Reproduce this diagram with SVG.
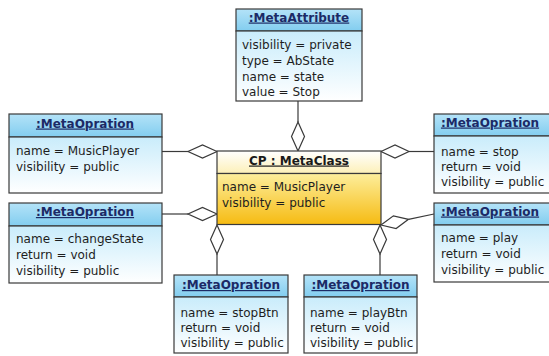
<svg xmlns="http://www.w3.org/2000/svg" width="549" height="356" viewBox="0 0 549 356">
  <defs>
    <linearGradient id="blueHead" x1="0" y1="0" x2="0" y2="1">
      <stop offset="0" stop-color="#b4e3f8"/>
      <stop offset="1" stop-color="#82cdef"/>
    </linearGradient>
    <linearGradient id="blueBody" x1="0" y1="0" x2="0" y2="1">
      <stop offset="0" stop-color="#c9ecfb"/>
      <stop offset="1" stop-color="#ffffff"/>
    </linearGradient>
    <linearGradient id="goldHead" x1="0" y1="0" x2="0" y2="1">
      <stop offset="0" stop-color="#ffffff"/>
      <stop offset="1" stop-color="#fdf0b8"/>
    </linearGradient>
    <linearGradient id="goldBody" x1="0" y1="0" x2="0" y2="1">
      <stop offset="0" stop-color="#fdee9c"/>
      <stop offset="1" stop-color="#f6bb12"/>
    </linearGradient>
  </defs>
  <style>
    .box { stroke: #3a3a3a; stroke-width: 1.2; }
    .head { fill: url(#blueHead); }
    .body { fill: url(#blueBody); }
    .ghead { fill: url(#goldHead); }
    .gbody { fill: url(#goldBody); }
    text { font-family: "DejaVu Sans", "Liberation Sans", sans-serif; font-size: 12px; fill: #1e1e1e; }
    .title { font-weight: bold; text-decoration: underline; fill: #1c2a66; text-anchor: middle; }
    .ctitle { font-weight: bold; text-decoration: underline; fill: #1a1a1a; text-anchor: middle; }
    .link { stroke: #3a3a3a; stroke-width: 1.2; fill: none; }
    .dia { stroke: #3a3a3a; stroke-width: 1.2; fill: #ffffff; }
  </style>

  <!-- connectors: aggregation links ending in hollow diamonds at CP -->
  <g id="connectors">
    <line class="link" x1="298" y1="101" x2="298" y2="122"/>
    <polygon class="dia" points="298,151 304.5,136.5 298,122 291.5,136.5"/>

    <line class="link" x1="162" y1="151.5" x2="188" y2="151.5"/>
    <polygon class="dia" points="217,151.5 202.5,145 188,151.5 202.5,158"/>

    <line class="link" x1="162" y1="214" x2="188" y2="214"/>
    <polygon class="dia" points="217,214 202.5,207.5 188,214 202.5,220.5"/>

    <line class="link" x1="409" y1="151.5" x2="434" y2="151.5"/>
    <polygon class="dia" points="381,151.5 395,145 409,151.5 395,158"/>

    <line class="link" x1="217" y1="254" x2="217" y2="275"/>
    <polygon class="dia" points="217,225 223.5,239.5 217,254 210.5,239.5"/>

    <line class="link" x1="380" y1="254" x2="380" y2="275"/>
    <polygon class="dia" points="380,225 386.5,239.5 380,254 373.5,239.5"/>

    <line class="link" x1="408.5" y1="219.3" x2="434" y2="214"/>
    <polygon class="dia" points="381,225 393.4,215.8 408.5,219.3 396.1,228.5"/>
  </g>

  <g id="metaAttribute">
    <rect class="box head" x="236" y="9" width="126" height="22"/>
    <rect class="box body" x="236" y="31" width="126" height="70"/>
    <text class="title" x="299" y="21.5">:MetaAttribute</text>
    <text x="242" y="48.5">visibility = private</text>
    <text x="242" y="64.5">type = AbState</text>
    <text x="242" y="80.5">name = state</text>
    <text x="242" y="96">value = Stop</text>
  </g>

  <g id="cpMetaClass">
    <rect class="box ghead" x="217" y="151" width="164" height="22.5"/>
    <rect class="box gbody" x="217" y="173.5" width="164" height="51"/>
    <text class="ctitle" x="299" y="164.5">CP : MetaClass</text>
    <text x="222" y="191">name = MusicPlayer</text>
    <text x="222" y="207">visibility = public</text>
  </g>

  <g id="opMusicPlayer">
    <rect class="box head" x="9" y="114" width="153" height="23"/>
    <rect class="box body" x="9" y="137" width="153" height="56"/>
    <text class="title" x="85" y="127.5">:MetaOpration</text>
    <text x="16" y="154.5">name = MusicPlayer</text>
    <text x="16" y="171">visibility = public</text>
  </g>

  <g id="opChangeState">
    <rect class="box head" x="9" y="203" width="153" height="23"/>
    <rect class="box body" x="9" y="226" width="153" height="57"/>
    <text class="title" x="85" y="216">:MetaOpration</text>
    <text x="16" y="242.5">name = changeState</text>
    <text x="16" y="259">return = void</text>
    <text x="16" y="275">visibility = public</text>
  </g>

  <g id="opStop">
    <rect class="box head" x="434" y="114" width="118" height="22"/>
    <rect class="box body" x="434" y="136" width="118" height="57"/>
    <text class="title" x="490" y="126.5">:MetaOpration</text>
    <text x="441" y="156">name = stop</text>
    <text x="441" y="171">return = void</text>
    <text x="441" y="186">visibility = public</text>
  </g>

  <g id="opPlay">
    <rect class="box head" x="434" y="203" width="118" height="22"/>
    <rect class="box body" x="434" y="225" width="118" height="57"/>
    <text class="title" x="490" y="215.5">:MetaOpration</text>
    <text x="441" y="242">name = play</text>
    <text x="441" y="257.5">return = void</text>
    <text x="441" y="273.5">visibility = public</text>
  </g>

  <g id="opStopBtn">
    <rect class="box head" x="174" y="275" width="114" height="22"/>
    <rect class="box body" x="174" y="297" width="114" height="56"/>
    <text class="title" x="231" y="289">:MetaOpration</text>
    <text x="180.5" y="316.5">name = stopBtn</text>
    <text x="180.5" y="331.5">return = void</text>
    <text x="180.5" y="347">visibility = public</text>
  </g>

  <g id="opPlayBtn">
    <rect class="box head" x="304" y="275" width="113" height="22"/>
    <rect class="box body" x="304" y="297" width="113" height="56"/>
    <text class="title" x="360.5" y="289">:MetaOpration</text>
    <text x="310" y="316.5">name = playBtn</text>
    <text x="310" y="331.5">return = void</text>
    <text x="310" y="347">visibility = public</text>
  </g>
</svg>
